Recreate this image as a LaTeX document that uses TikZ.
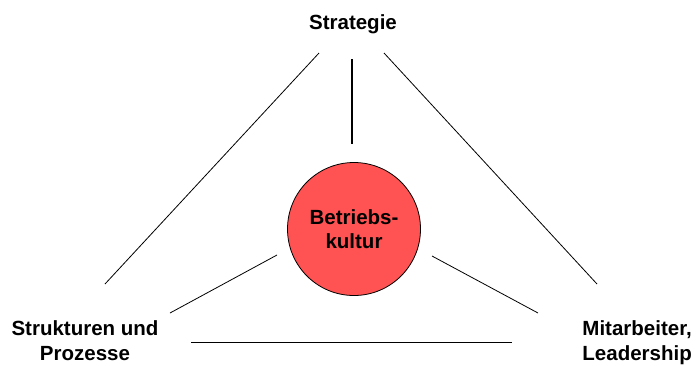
\documentclass[tikz,border=0pt]{standalone}
\usepackage{fontspec}
\setmainfont{Liberation Sans}
\tikzset{
  ecke/.style={font=\bfseries\fontsize{20.5}{25}\selectfont, align=center, inner sep=0pt},
  kultur/.style={circle, draw=black, line width=0.8pt, fill=kreisrot, minimum size=133pt, inner sep=0pt,
    font=\bfseries\fontsize{20.5}{24}\selectfont, align=center},
  linie/.style={line width=0.8pt}
}
\definecolor{kreisrot}{RGB}{255,82,82}
\begin{document}
\begin{tikzpicture}[x=1pt,y=-1pt]
        \useasboundingbox (0,0) rectangle (698,365);
        \node [ecke, anchor=base] (strategie) at (353,29) {Strategie};
        \node [ecke, anchor=north] (struktur) at (85,320) {Strukturen und\\Prozesse};
        \node [ecke, anchor=north east] (mitarbeiter) at (692,320) {Mitarbeiter,\\Leadership};
        \node [kultur] (betrieb) at (354,229) {Betriebs-\\kultur};
        % Endpunkte der Linien
        \coordinate (sl) at (319,53);
        \coordinate (sr) at (384,53);
        \coordinate (sm) at (352,59);
        \coordinate (km) at (352,144);
        \coordinate (ul) at (105,284);
        \coordinate (ur) at (597,284);
        \coordinate (kl) at (277,255);
        \coordinate (kr) at (432,256);
        \coordinate (pl) at (170,313);
        \coordinate (pr) at (538,313);
        \coordinate (bl) at (191,342);
        \coordinate (br) at (512,342);
        \draw [linie] (sl) -- (ul);
        \draw [linie] (sr) -- (ur);
        \draw [line width=1.6pt] (sm) -- (km);
        \draw [linie] (kl) -- (pl);
        \draw [linie] (kr) -- (pr);
        \draw [linie] (bl) -- (br);
      \end{tikzpicture}
\end{document}
